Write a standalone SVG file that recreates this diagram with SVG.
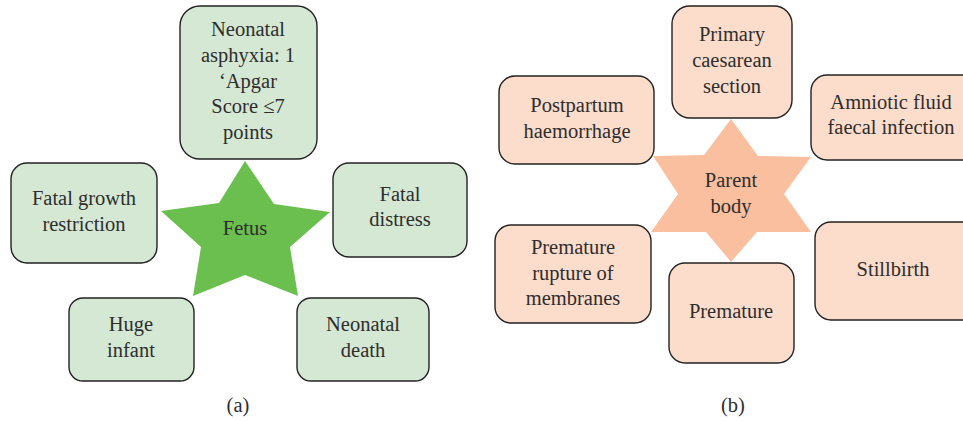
<svg xmlns="http://www.w3.org/2000/svg" width="963" height="421" viewBox="0 0 963 421" font-family="'Liberation Serif', 'DejaVu Serif', serif">
<style>
.g{fill:#d5e8d4;stroke:#222;stroke-width:1.4}
.p{fill:#fcdccb;stroke:#222;stroke-width:1.4}
text{font-family:'Liberation Serif','DejaVu Serif',serif;font-size:20.5px;fill:#2e2e2e;text-anchor:middle}
</style>
<rect width="963" height="421" fill="#fff"/>
<g id="fetus">
<polygon points="245,161 274,204 330,212 290,247 298,296 245,275 193,296 201,247 161,211 219,203" fill="#6abf4f"/>
<text x="245" y="235">Fetus</text>
</g>
<g id="asphyxia">
<rect class="g" x="180" y="6" width="137" height="153" rx="20"/>
<text x="248" y="36">Neonatal</text>
<text x="248" y="62">asphyxia: 1</text>
<text x="248" y="88">‘Apgar</text>
<text x="248" y="113">Score ≤7</text>
<text x="248" y="139">points</text>
</g>
<g id="growth">
<rect class="g" x="11" y="163" width="146" height="100" rx="16"/>
<text x="84" y="205">Fatal growth</text>
<text x="84" y="231">restriction</text>
</g>
<g id="distress">
<rect class="g" x="333" y="163" width="134" height="94" rx="16"/>
<text x="400" y="201">Fatal</text>
<text x="400" y="226">distress</text>
</g>
<g id="huge">
<rect class="g" x="69" y="298" width="125" height="83" rx="14"/>
<text x="131" y="331">Huge</text>
<text x="131" y="357">infant</text>
</g>
<g id="ndeath">
<rect class="g" x="297" y="298" width="132" height="83" rx="14"/>
<text x="363" y="331">Neonatal</text>
<text x="363" y="357">death</text>
</g>
<text x="238" y="412">(a)</text>

<g id="parent">
<polygon points="731,119 758,156 811,157 784,194 811,232 757,232 731,262 706,232 651,232 678,194 653,156 704,155" fill="#f9bf9e"/>
<text x="731" y="187">Parent</text>
<text x="731" y="213">body</text>
</g>
<g id="caesarean">
<rect class="p" x="672" y="6" width="120" height="112" rx="18"/>
<text x="732" y="41">Primary</text>
<text x="732" y="67">caesarean</text>
<text x="732" y="93">section</text>
</g>
<g id="postpartum">
<rect class="p" x="499" y="76" width="155" height="88" rx="16"/>
<text x="577" y="112">Postpartum</text>
<text x="577" y="138">haemorrhage</text>
</g>
<g id="amniotic">
<rect class="p" x="811" y="75" width="170" height="85" rx="16"/>
<text x="891" y="109">Amniotic fluid</text>
<text x="891" y="134">faecal infection</text>
</g>
<g id="rupture">
<rect class="p" x="495" y="225" width="156" height="98" rx="16"/>
<text x="573" y="254">Premature</text>
<text x="573" y="280">rupture of</text>
<text x="573" y="305">membranes</text>
</g>
<g id="premature">
<rect class="p" x="669" y="263" width="125" height="100" rx="16"/>
<text x="731" y="318">Premature</text>
</g>
<g id="stillbirth">
<rect class="p" x="815" y="222" width="170" height="98" rx="16"/>
<text x="893" y="276">Stillbirth</text>
</g>
<text x="733" y="412">(b)</text>
<g id="connectors"/>
</svg>
